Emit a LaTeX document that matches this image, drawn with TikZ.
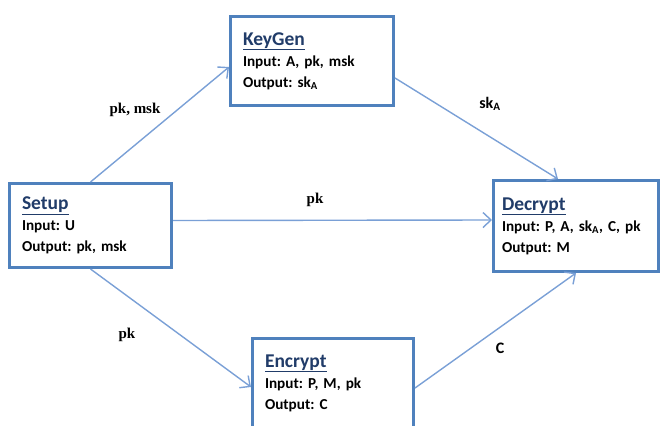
\documentclass[tikz,border=0pt]{standalone}
\usepackage{fontspec}
\setmainfont{Carlito}[WordSpace=0.8]
\newfontfamily\serifbold{Liberation Serif}
\usepackage{xcolor}
\usetikzlibrary{arrows.meta, positioning}

\definecolor{boxblue}{RGB}{79,129,189}
\definecolor{lineblue}{RGB}{122,160,214}
\definecolor{titleblue}{RGB}{33,60,105}
\newcommand{\boxtitle}[1]{{\fontsize{19.5}{21}\selectfont\color{titleblue}\underline{#1}}}
\frenchspacing

\begin{document}
\begin{tikzpicture}[
    x=1pt, y=-1pt,
    box/.style={rectangle, draw=boxblue, line width=3pt, fill=white, minimum width=163pt, minimum height=89pt, text width=138pt, inner xsep=12.5pt, inner ysep=3pt, align=left, font=\fontsize{15.2}{21}\selectfont\bfseries},
    arrow/.style={-{Straight Barb[length=8pt, width=15pt]}, line width=1.4pt, draw=lineblue},
    lbl/.style={font=\serifbold\fontsize{15}{16}\selectfont\bfseries},
    sublbl/.style={font=\fontsize{16}{16}\selectfont\bfseries}
]
    \clip (0,0) rectangle (662,426);

    % boxes
    \node[box, minimum width=162pt, minimum height=84pt, text width=137pt] (setup) at (90.5,225.5) {\boxtitle{Setup}\\Input: U\\Output: pk, msk};
    \node[box] (keygen) at (312,61) {\boxtitle{KeyGen}\\Input: A, pk, msk\\Output: sk\textsubscript{A}};
    \node[box, minimum width=165pt, minimum height=91pt, text width=148pt, inner xsep=8.5pt] (decrypt) at (576,226) {\boxtitle{Decrypt}\\Input: P, A, sk\textsubscript{A}, C, pk\\Output: M};
    \node[box, minimum width=161pt, text width=136pt] (encrypt) at (333,383) {\boxtitle{Encrypt}\\Input: P, M, pk\\Output: C};

    % arrows
    \draw[arrow] (setup.north) -- ([yshift=-6pt]keygen.west);
    \draw[arrow] ([yshift=5pt]setup.east) -- ([yshift=6pt]decrypt.west);
    \draw[arrow] (setup.south) -- ([yshift=-4pt]encrypt.west);
    \draw[arrow] ([yshift=-17pt]keygen.east) -- ([xshift=-18pt]decrypt.north);
    \draw[arrow] ([yshift=-5pt]encrypt.east) -- (decrypt.south);

    % labels
    \node[lbl] (lblpkmsk) at (135,110) {pk, msk};
    \node[lbl] (lblpktop) at (315,200) {pk};
    \node[lbl] (lblpkbot) at (127,335) {pk};
    \node[sublbl] (lblsk) at (490,104) {sk\textsubscript{A}};
    \node[sublbl] (lblc) at (500,348) {C};
\end{tikzpicture}
\end{document}
